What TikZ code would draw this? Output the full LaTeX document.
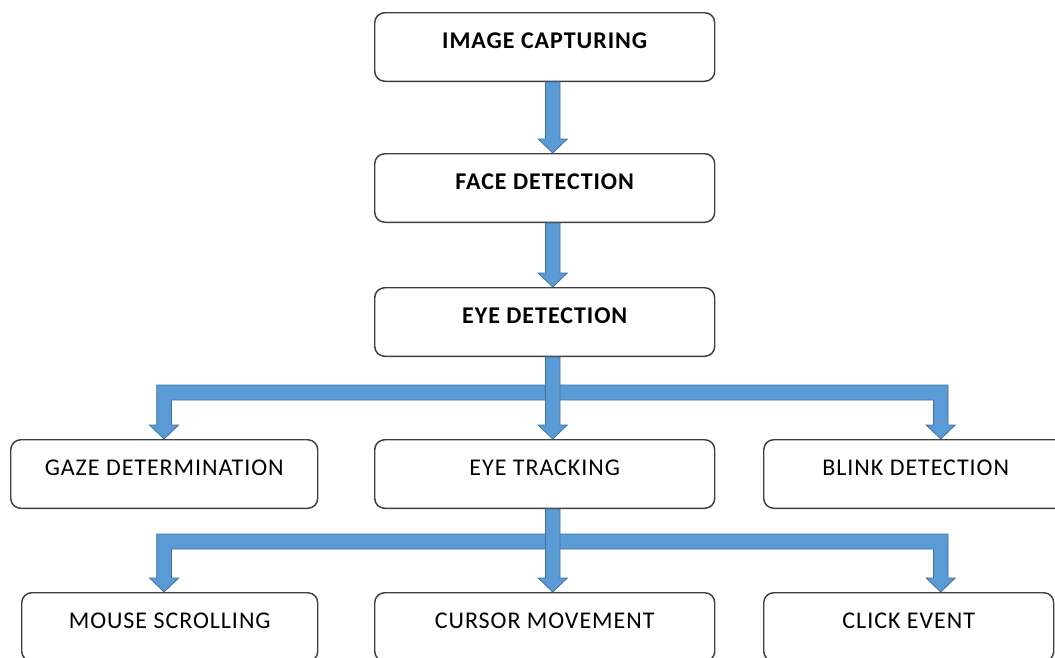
\documentclass[tikz,border=0pt]{standalone}
\usepackage{fontspec}
\setmainfont{Carlito}[LetterSpace=4]
\usetikzlibrary{calc}
\definecolor{arrowfill}{RGB}{91,155,213}
\definecolor{arrowedge}{RGB}{65,113,156}
\definecolor{boxedge}{RGB}{64,64,64}
\tikzset{
  box/.style={draw=boxedge, line width=1.1pt, rounded corners=7.5pt, fill=white,
    inner sep=0pt, text height=26.6pt, text depth=24.8pt, anchor=north west,
    font=\fontsize{18}{20}\selectfont},
  boldbox/.style={box, font=\fontsize{18}{20}\selectfont\bfseries},
  barrow/.style={fill=arrowfill, draw=arrowedge, line width=0.6pt, line join=miter}
}
% straight block arrow: x, y top, y tip (absolute pt, y up)
\newcommand\blockdownpath[3]{(#1-5.5pt,#2) -- (#1-5.5pt,#3+10.5pt) -- (#1-10.9pt,#3+10.5pt) -- (#1,#3) -- (#1+10.9pt,#3+10.5pt) -- (#1+5.5pt,#3+10.5pt) -- (#1+5.5pt,#2) -- cycle}
\begin{document}
\begin{tikzpicture}[x=0.75pt,y=-0.75pt]
\useasboundingbox (0,0) rectangle (1055,657);
\clip (0,0) rectangle (1055,657);

\node[boldbox, minimum width=255pt] (ic) at (374,12) {IMAGE CAPTURING};
\node[boldbox, minimum width=255pt] (fd) at (374,153) {FACE DETECTION};
\node[boldbox, minimum width=255pt] (ed) at (374,287) {EYE DETECTION};
\node[box, minimum width=230.25pt] (gd) at (10,439) {GAZE DETERMINATION};
\node[box, minimum width=255pt] (et) at (374,439) {EYE TRACKING};
\node[box, minimum width=228pt] (bd) at (763,439) {BLINK DETECTION};
\node[box, minimum width=222pt] (ms) at (21,592) {MOUSE SCROLLING};
\node[box, minimum width=255pt] (cm) at (374,592) {CURSOR MOVEMENT};
\node[box, minimum width=217.5pt] (ce) at (763,592) {CLICK EVENT};

% straight arrows
\filldraw[barrow] let \p1=($(ic.south)+(8,0)$), \p2=(fd.north) in \blockdownpath{\x1}{\y1}{\y2};
\filldraw[barrow] let \p1=($(fd.south)+(8,0)$), \p2=(ed.north) in \blockdownpath{\x1}{\y1}{\y2};

% first branch: elbows then centre arrow
\filldraw[barrow] let \p1=($(ed.south)+(8,0)$), \p2=(gd.north) in
  (\x1-297pt,\y1-21pt) -- (\x1+296.5pt,\y1-21pt) -- (\x1+296.5pt,\y2+10.5pt) -- (\x1+301.9pt,\y2+10.5pt)
  -- (\x1+291pt,\y2) -- (\x1+280.1pt,\y2+10.5pt) -- (\x1+285.5pt,\y2+10.5pt) -- (\x1+285.5pt,\y1-32.25pt)
  -- (\x1-286pt,\y1-32.25pt) -- (\x1-286pt,\y2+10.5pt) -- (\x1-280.6pt,\y2+10.5pt) -- (\x1-291.5pt,\y2)
  -- (\x1-302.4pt,\y2+10.5pt) -- (\x1-297pt,\y2+10.5pt) -- cycle;
\filldraw[barrow] let \p1=($(ed.south)+(8,0)$), \p2=(et.north) in \blockdownpath{\x1}{\y1}{\y2};

% second branch
\filldraw[barrow] let \p1=($(et.south)+(8,0)$), \p2=(ms.north) in
  (\x1-297pt,\y1-18.75pt) -- (\x1+296.5pt,\y1-18.75pt) -- (\x1+296.5pt,\y2+10.5pt) -- (\x1+301.9pt,\y2+10.5pt)
  -- (\x1+291pt,\y2) -- (\x1+280.1pt,\y2+10.5pt) -- (\x1+285.5pt,\y2+10.5pt) -- (\x1+285.5pt,\y1-30pt)
  -- (\x1-286pt,\y1-30pt) -- (\x1-286pt,\y2+10.5pt) -- (\x1-280.6pt,\y2+10.5pt) -- (\x1-291.5pt,\y2)
  -- (\x1-302.4pt,\y2+10.5pt) -- (\x1-297pt,\y2+10.5pt) -- cycle;
\filldraw[barrow] let \p1=($(et.south)+(8,0)$), \p2=(cm.north) in \blockdownpath{\x1}{\y1}{\y2};
\end{tikzpicture}
\end{document}
